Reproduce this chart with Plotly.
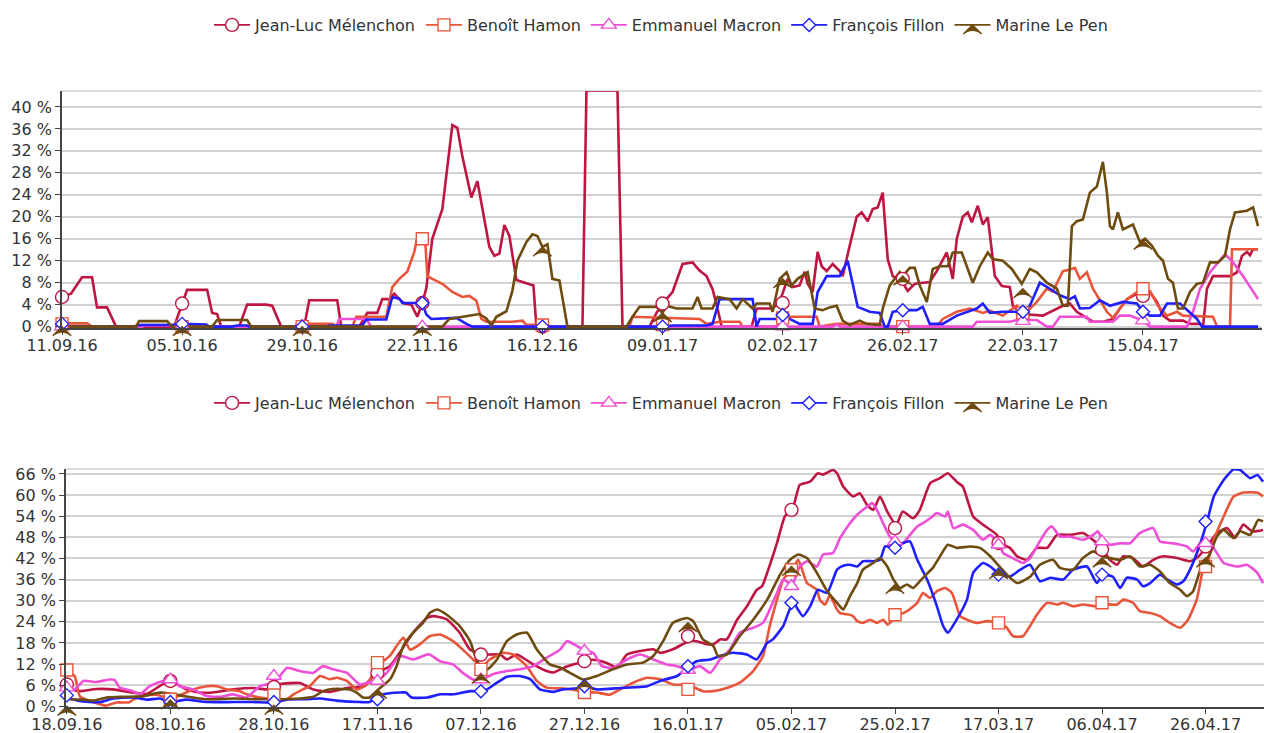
import pandas as pd
import plotly.graph_objects as go

# ---------------- data ----------------
START_TOP = "2016-09-11"
START_BOT = "2016-09-18"
NAMES = ["Jean-Luc Mélenchon", "Benoît Hamon", "Emmanuel Macron", "François Fillon", "Marine Le Pen"]

# top chart: (days since START_TOP, percent)
TOP_MEL = [(0,5.4),(1.8,6.0),(4,9.0),(6,9.0),(7,3.5),(9,3.5),(10.8,0),(22.4,0),(25,6.7),(29,6.7),(30,2.5),(31,2.3),(31.8,0),
           (35.4,0),(37,4.0),(40.8,4.0),(42,3.8),(43.8,0),(48.4,0),(49.4,4.8),(55,4.8),(55.8,0),(59.4,0),(61,2.5),(63,2.5),
           (64,5.0),(65.4,5.0),(66.4,6.0),(67.4,5.0),(68.4,4.2),(69.8,4.0),(71,1.8),(72,4.3),(72.8,7),(74,16),(76,21.4),
           (78,36.7),(79,36.2),(80,31),(81.8,23.5),(83,26.5),(85.4,14.5),(86.4,12.9),(87.4,13.3),(88.4,18.5),(89.4,16.5),
           (90.8,8.5),(93.4,7.8),(94.2,7.5),(94.8,0),(104,0),(104.8,43),(111,43),(112,0),(117.4,0),(118.8,2.5),(120,4.2),
           (122,6.3),(124,11.4),(126,11.7),(127.4,10.2),(128.8,9.2),(130,6.8),(131,3.3),(131.8,0),(137.8,0),(138.8,3.3),
           (142,3.3),(143.4,4.5),(145,8.7),(146,7.2),(147.4,7.5),(148.4,10),(149,7.8),(150,6.3),(151,13.6),(151.8,11),
           (152.8,10.1),(154,11.4),(155.4,10.1),(156,9.2),(157.4,14.7),(158.8,20),(159.8,20.8),(161,19.2),(162,21.4),
           (163,21.7),(164,24.4),(165,12.3),(166,9.2),(167.8,8.3),(169,6.5),(170.4,7.8),(173.4,8.1),(174.8,10.1),
           (176.8,13.5),(178,8.7),(178.8,16),(180,20),(181,20.8),(181.8,19),(183,22),(184,18.6),(185,19.9),(185.8,13.6),
           (186.4,9.2),(187.8,7.4),(189.4,7.2),(190,3.8),(191.8,2.3),(196,2),(198,2.9),(200,3.8),(201.4,4.2),(202.8,2.7),
           (204,2),(206,0.9),(208,0.9),(210,1.4),(211.4,3.3),(212.8,5),(215.4,6.3),(217.4,6.3),(218.8,4.5),(220,2),
           (221.4,1.1),(224,1.1),(225.4,0.5),(227.4,0.5),(228,0),(228.8,6.9),(230,9.2),(233.4,9.2),(234.8,9.9),
           (235.8,12.9),(236.8,13.6),(237.4,13),(238,14.1),(239,14.1)]
TOP_HAM = [(0,0.6),(5,0.6),(6,0),(14,0),(16,0.3),(22,0.3),(24,0),(48,0),(49,0.5),(54,0.5),(55,0),(58,0),(58.8,1.8),
           (64.8,1.8),(66,7.2),(67.4,8.7),(69,10),(70.4,13.6),(71,16.3),(72,16),(72.6,15.4),(73,9.2),(74,8.7),(76,7.8),
           (78,6.3),(80,5.4),(81.4,5.6),(82.8,4.7),(83.8,1.4),(84.8,0.9),(90,0.9),(92,1.1),(92.8,0.3),(95.4,0.4),(96.8,0),
           (113.4,0),(114,1.8),(127.4,1.4),(128.8,0.5),(131.4,0.9),(135.4,0.9),(136,0),(143,0),(143.4,1.6),(144,1.8),
           (150.8,1.8),(151.4,0),(154,0.3),(154.8,0.5),(163.4,0.5),(164,0),(174.8,0),(176,1.4),(178.8,2.7),(181.4,3.3),
           (184,2.5),(185.4,2.9),(188,2),(190.8,3.8),(192,2.5),(192.8,2.7),(194.8,4.5),(196.8,6.9),(198,6.4),(200,10.1),
           (201.4,10.4),(202.4,10.7),(203.4,8.7),(204.8,9.9),(206,6.9),(207.4,4.9),(208.8,2.7),(210,1.6),(211.4,3.3),
           (212.8,5),(214.8,6.3),(215.8,6.9),(217.4,6.5),(219,3.8),(220.8,2),(222.8,2.7),(224,2),(230,1.8),(230.8,0),
           (233.4,0),(233.8,14.1),(239,14.1)]
TOP_MAC = [(0,0),(16,0),(16.5,0.2),(22,0.2),(22.5,0),(54.8,0),(55.4,1.4),(60.8,1.4),(61.8,0),(154,0),(154.8,0.4),
           (155.5,0),(182,0),(182.8,0.9),(189.4,0.9),(190.8,1.2),(194.8,1.2),(196.8,0),(198,0),(199.4,1.8),(204.8,1.8),
           (205.4,0.9),(210,0.9),(211.4,2),(213.4,2),(216,1.1),(217.4,0),(224.8,0),(226,2.7),(227.4,6.9),(229.4,9.9),
           (232.4,13.2),(234,11.7),(236,9.2),(239,5)]
TOP_FIL = [(0,0.5),(1,0),(14.8,0),(15.4,0.3),(22,0.3),(23,0.4),(24,0.5),(28.8,0.4),(29.4,0),(34,0),(35,0.2),(37,0.2),
           (37.5,0),(52.8,0),(53.4,0.2),(60,0.2),(60.8,1.3),(64.8,1.3),(66,5.4),(67.4,5.1),(68,4.3),(72,4.3),(72.8,2.2),
           (73.8,1.4),(78.8,1.6),(80.8,0.5),(82,0),(120,0),(122,0.2),(128.8,0.2),(130,0.5),(131.4,5),(138,5),(138.8,0),
           (139.4,1.4),(142.8,1.4),(144,2.1),(145.4,1.4),(147.4,0.5),(150,0.5),(151,6.3),(152.8,9.2),(155.4,9.2),(157,12),
           (158,7.5),(159,3.6),(161.4,2.7),(163.4,2.5),(164.4,0),(165,0),(166,2.7),(168,3),(170.8,3),(172,3.6),(173.4,0.5),
           (176,0.5),(178.8,2),(182.8,3.3),(184,4.2),(185.4,2.5),(188,2.7),(192,2.7),(193.4,3.8),(195.4,8),(197.4,6.9),
           (199.4,5.7),(201.4,5),(202.4,5.5),(203.4,3.3),(205.4,3.4),(207.4,4.8),(209.4,3.8),(212,4.5),(214.8,4.2),
           (216,2.7),(217.4,2),(219.4,2),(220.8,4.2),(223.4,4.2),(224.8,3),(226.8,1.4),(227.8,0),(239,0)]
TOP_LEP = [(0,0),(14.8,0),(15.4,1),(21,1),(22,0),(30,0),(31,1.2),(37,1.2),(37.8,0),(76,0),(77.4,1.4),(83.4,2.3),
           (84.8,1.5),(85.8,0.2),(86.8,1.8),(88.8,2.8),(90,6.5),(91,12),(92.8,15.4),(94,16.8),(95,16.5),(96,14.5),(97,15),
           (98,8.7),(99.4,8.4),(100.4,2.7),(101,0),(112.8,0),(114,1.8),(115.4,3.6),(118.8,3.6),(120,2.5),(120.8,3.8),
           (122.8,3.3),(126,3.3),(127,5.4),(127.8,3.3),(130,3.3),(131,5.4),(133.4,5),(134.8,3.3),(136,5),(138,3.3),
           (138.8,4.2),(141.4,4.2),(142,2.7),(143.4,8.7),(144.8,9.9),(145.8,7.5),(147,8.7),(149,9.9),(150.4,3.3),(152,3.0),
           (153.4,3.5),(154.8,3.8),(156,1.1),(157.4,0.3),(159.4,1.1),(160.8,0.5),(163.4,0.3),(164,3.3),(165.4,7.5),
           (167.4,9.9),(168,9.2),(169.4,10.7),(170.4,10.7),(171.4,7.5),(172.8,4.5),(174,10.5),(175.4,11),(177,11),
           (178,13.5),(179.8,13.5),(180.8,11),(182,8),(183.4,11),(185,13.5),(186,12.3),(188,12),(189.8,10.5),(191.8,7.8),
           (193.4,10.5),(194.8,9.9),(196.8,8),(198.8,6.9),(200,3.8),(201,3.8),(201.8,18.3),(202.8,19.2),(204,19.5),
           (205.4,24.4),(206.8,25.5),(208,30),(208.8,24.4),(209.4,18.3),(210,17.7),(211,20.8),(212,17.7),(214,18.6),
           (215.4,15.4),(216.4,16),(217.8,14.7),(219,12.9),(220,12),(221,8.7),(222,8),(223,3.3),(224,3.3),(225.4,6.3),
           (226.8,7.8),(228,8),(229.4,11.7),(231,11.7),(232.4,12.9),(233.4,17.7),(234.4,20.8),(236.8,21.1),(238,21.7),
           (239,18.3)]

TOP_MARK_DAYS = [0, 24, 48, 72, 96, 120, 144, 168, 192, 216]
TOP_MEL_M = [5.4, 4.2, 0.0, 4.3, 0.0, 4.2, 4.3, 8.7, 2.3, 5.6]
TOP_HAM_M = [0.5, 0.0, 0.0, 16.0, 0.3, 0.4, 1.6, 0.0, 2.5, 6.9]
TOP_MAC_M = [0.0, 0.0, 0.0, 0.0, 0.0, 0.0, 0.0, 0.0, 1.0, 1.1]
TOP_FIL_M = [0.5, 0.5, 0.0, 4.3, 0.0, 0.0, 2.1, 3.0, 2.7, 2.7]
TOP_LEP_M = [0.0, 0.0, 0.0, 0.0, 14.5, 2.5, 8.7, 9.2, 6.9, 15.7]

# bottom chart: (days since START_BOT, percent)
BOT_MEL = [(0,6.0),(1,4.8),(2.5,4.3),(5.7,4.9),(8.9,4.8),(12.8,3.9),(15.4,3.5),(18,5.8),(19.9,7.2),(23.1,4.8),(25.7,3.9),
           (28.2,3.9),(32.1,4.8),(36,5.2),(38.6,4.8),(41.2,6.3),(45,6.6),(47.6,4.8),(50.8,4.1),(54.1,5.2),(57.2,5.7),
           (59.9,9.5),(62.4,11.4),(64.3,15.2),(66.9,20.9),(69.6,25.1),(70.8,25.6),(73.4,24.7),(75.9,20.9),(77.9,16.1),
           (80.2,14.7),(83.7,14.7),(85,13.3),(86.9,14.7),(90.1,11.9),(92.7,10),(94,9.6),(96.6,11.3),(100.3,12.8),
           (101.7,13.2),(104.3,12.3),(106.3,11),(108.2,14.7),(110.8,15.7),(113.3,16.2),(114.6,15.2),(117.1,16.2),
           (120.2,18.5),(121.7,18.5),(123.7,17.6),(124.9,17.6),(126.2,19),(127.5,19),(129.5,24.6),(131.4,28.4),
           (133.3,33.1),(134.3,34.1),(135.3,37.9),(137.2,46.4),(138.7,53.9),(140.3,56.5),(141.6,62.9),(143.6,63.8),
           (145.1,66.2),(146.1,65.8),(148,67.1),(148.8,66.2),(150,62.4),(151.9,59.6),(153.2,60.5),(154.6,57.2),
           (155.8,55.8),(157.1,59.6),(158.5,55.3),(160.2,51.5),(161.5,55.3),(163.5,53.4),(164.8,55.8),(166.8,63.4),
           (168.7,64.8),(170.2,66.2),(171.9,63.8),(173.1,62.4),(175.1,53.9),(177,51.6),(179.7,48.7),(180.3,46.4),
           (182.2,45),(183.6,42.6),(185.5,41.6),(187.4,45),(189.4,45),(191.3,48.7),(193.8,48.7),(196.3,49.2),(198.3,47.2),
           (200.2,44.5),(201.5,41.6),(202.9,40.2),(204.1,42.6),(206,42.1),(207.9,39.7),(209.9,41.6),(211.8,42.6),
           (214.5,42.1),(217,41.2),(218.3,42.1),(220.3,45.4),(222.2,49.2),(224.2,50.6),(225.7,47.8),(227.3,51.6),
           (229,49.7),(231.1,50.1)]
BOT_HAM = [(0,10.0),(1.5,8.6),(2.5,2.9),(3.8,1.8),(6.4,0.6),(7.5,0.2),(9.6,1.1),(12,1.1),(12.8,1.9),(14.8,2.9),(17.3,3.3),
           (19.9,2.2),(21.2,2.7),(24.4,4.8),(27,5.7),(29,5.7),(30.9,4.8),(33.4,4.3),(34.7,3.4),(37.3,2.5),(39.9,2.0),
           (42.5,2.0),(43.7,3.3),(45.6,4.8),(46.9,5.7),(48.9,8.6),(50.8,7.7),(52.1,8.1),(54.1,7.2),(56,4.8),(58,6.2),
           (59.9,11.4),(62.4,14.3),(63.7,17.1),(65,19.5),(66.3,16.1),(68.2,17.6),(70.1,19.9),(72.1,20.4),(74.6,18.5),
           (76.5,16.1),(78.5,13.3),(80.2,11.3),(81.7,13.3),(84.3,15.2),(86.2,14.7),(88.9,11.3),(90.8,7.2),(92.7,5.3),
           (96.6,5.0),(100.3,4.0),(102.4,3.9),(104.9,3.3),(106.9,4.8),(109.4,6.7),(112.1,8.1),(114.6,7.7),(117.1,6.2),
           (120.2,6.0),(122.9,4.3),(124.9,4.3),(127.5,5.2),(130,6.7),(132.6,10),(134.5,14.3),(135.8,22.8),(137.2,30.3),
           (138.4,36),(140.1,38.8),(141.3,41.6),(143,35),(144.9,33.1),(145.5,30.2),(146.5,28.9),(147.4,31.5),(148.8,27.5),
           (149.4,26.5),(151.3,26),(151.9,25.6),(152.7,24.2),(153.8,23.7),(155.2,24.6),(156.5,23.7),(157.7,24.6),
           (158.6,23.2),(160.2,25.5),(162.3,27),(164.3,29.4),(165.4,32.2),(166.8,30.8),(168.1,32.7),(169.7,33.6),
           (171,32.2),(172.6,25.6),(173.9,24.6),(175.8,23.7),(177.8,24.2),(180.3,23.7),(181.6,22.3),(182.8,19.9),
           (184.7,19.9),(186.1,22.8),(187.4,26),(189.4,29.4),(191.3,28.9),(192.5,29.4),(194.4,28.4),(196.3,28.9),
           (199,28.4),(200.2,29.0),(202.9,28.9),(204.1,30.3),(206,29.4),(207.3,27),(209.3,26.5),(211.2,25.6),(213.1,23.7),
           (215.1,22.3),(216.6,24.6),(218.3,30.3),(219.5,38.8),(220.3,40.5),(221.6,47.3),(223.5,53.9),(225.4,59.6),
           (227.3,60.7),(230,60.7),(231.1,59.6)]
BOT_MAC = [(0,4.8),(1.5,4.8),(3.2,7.2),(5.7,6.9),(8.3,7.6),(9.2,7.5),(10.2,5.3),(12.8,4.3),(14.1,3.4),(16,5.7),(18.6,7.2),
           (19.9,7.6),(21.8,5.7),(24.4,4.8),(27,2.9),(29.6,2.7),(32.1,3.4),(34.7,2.5),(37.3,5.7),(40.2,6.9),(42.5,10.9),
           (45,10),(47.6,9.5),(49.5,11.4),(51.4,10.5),(54.1,9.5),(56.6,6.2),(58.5,6.9),(59.9,7.2),(61.8,9.5),(64.3,14.3),
           (66.9,13.3),(69.6,14.7),(70.1,14.7),(72.1,12.8),(74.6,11.9),(76.5,9.5),(78.5,7.6),(80.2,7.6),(82.3,9.1),
           (85,10),(87.5,10.5),(90.1,11.4),(92.7,13.8),(95.3,16.1),(96.6,18.5),(98.6,17.1),(100.3,15.7),(101.7,15.2),
           (103.4,11.4),(105.5,10.9),(108.2,13.3),(110.8,14.7),(113.3,13.3),(115.9,11.9),(117.9,11.4),(120.2,10.3),
           (122.3,11.4),(124.3,9.5),(126.2,13.3),(128.1,16.1),(130,20.9),(132.6,22.3),(134.5,23.7),(135.8,27.5),
           (137.2,32.2),(138.4,36),(140.1,34.5),(141.6,39.7),(143,41.2),(144.9,39.7),(146.1,43.1),(148,43.5),(149.4,47.8),
           (151.3,52),(152.7,54.4),(154.6,56.7),(155.6,57.7),(156.5,55.8),(157.7,52),(159,48.2),(160.2,46.8),(161.5,46.3),
           (162.9,48.7),(164.3,51.1),(165.4,52),(166.8,53.4),(168.1,54.9),(169.7,53.9),(170.2,55.3),(171.3,50.6),
           (173.1,51.6),(175.1,50.1),(177,47.3),(178.4,48.7),(180.3,45.9),(180.9,43.5),(182.8,42.1),(184.7,40.7),
           (186.1,42.1),(187.4,45.4),(189.4,50.1),(190.3,51.1),(191.9,48.2),(193.8,48.2),(196.3,47.3),(198.3,48.7),
           (199.2,49.7),(200.2,46.8),(201.5,45.9),(203.5,46.3),(205.4,46.3),(207.3,49.2),(209.9,50.6),(211.2,46.8),
           (213.7,46.3),(216.4,45.4),(217.6,44),(219,46.3),(220.9,46.3),(222.2,43.5),(223.5,40.7),(226.2,39.7),
           (228,40.2),(230,37.9),(231.1,35)]
BOT_FIL = [(0,2.5),(2.5,1.5),(6.4,1.2),(8.9,2.2),(12.8,2.5),(15.4,1.9),(18,2.2),(19.9,1.2),(23.1,1.9),(27,1.2),(32.1,1.2),
           (36,1.2),(39.9,1.1),(42.5,1.9),(46.3,2.0),(48.9,2.2),(52.1,1.6),(56.6,1.2),(58.5,1.2),(59.9,2.7),(61.1,3.4),
           (64.3,3.9),(65.5,3.9),(66.6,2.5),(69.6,2.5),(72.1,3.4),(74.6,3.4),(77.9,4.3),(80.2,4.3),(81.2,4.8),(83.1,6.7),
           (85,8.4),(87.5,8.6),(89.5,7.7),(91.4,4.8),(94,4.1),(95.8,4.8),(99.1,5.2),(100.3,5.7),(102.4,4.8),(106.9,5.2),
           (112.1,5.7),(114.6,7.2),(117.9,8.6),(120.2,11.4),(121.7,12.8),(124.3,13.3),(126.2,14.3),(128.7,15.2),
           (131.4,14.7),(133.3,13.3),(135.3,18),(136.4,19),(138.4,22.8),(140.3,29.4),(142.2,25.6),(143.6,28.4),
           (145.1,33.1),(146.9,32.2),(148.8,38.8),(150,39.9),(151.3,40.2),(152.7,39.7),(153.8,41.2),(155.8,41.2),
           (157.1,41.6),(158.1,45.4),(160.2,45.0),(161.5,46.3),(162.9,46.8),(164.3,41.6),(166.2,36),(168.1,28.4),
           (169.3,22.8),(170.2,20.9),(171.9,24.6),(173.9,30.3),(175.1,37.9),(177,40.7),(178.4,39.7),(180.3,37.4),
           (182.2,36.8),(184.2,38.8),(186.1,40.2),(188,35.5),(190,36.5),(192.5,36),(194.4,38.8),(197.1,39.7),(199,35),
           (200.2,37.4),(202.1,36.8),(203.5,33.6),(204.8,36.5),(206.8,36),(207.9,34.1),(209.3,35),(211.2,37.4),
           (212.6,36),(214.5,34.6),(215.7,35.5),(217,38.8),(219,46.3),(220.3,52.5),(221.6,59.6),(223.5,64.3),
           (225.4,67.3),(226.7,67.1),(228.6,64.8),(230,65.7),(231.1,63.8)]
BOT_LEP = [(0,2.0),(3.2,1.9),(5.1,1.6),(7.7,2.5),(11.5,2.7),(14.8,2.9),(17.3,3.8),(19.2,3.8),(21.8,3.1),(24.4,2.5),
           (27,2.0),(32.1,2.2),(37.3,2.0),(39.9,2.0),(45,2.2),(47.6,2.7),(49.5,4.3),(51.4,4.9),(54.7,4.8),(56,3.9),
           (57.2,2.5),(58.5,2.5),(60.5,5.2),(62.4,7.6),(63.7,11.4),(65,17.1),(66.9,20.9),(68.8,23.7),(70.1,26.5),
           (71.5,27.5),(73.4,26),(75.9,22.8),(77.9,18.5),(79.4,12.4),(81.2,10.5),(83.1,13.3),(85,18.5),(86.9,20.4),
           (88.9,20.9),(90.8,16.1),(93.3,11.9),(95.3,11),(97.2,9.5),(99.7,7.6),(102.4,8.6),(105.5,10.5),(108.2,11.9),
           (111.3,12.4),(113.3,14.3),(115.2,18.5),(117.1,23.7),(119.8,25.1),(121,24.2),(122.9,19),(124.9,17.1),
           (125.8,14.3),(127.5,14.7),(130,19.9),(132.6,24.6),(135.3,30.3),(137.8,37.4),(139.7,41.6),(141.3,43.1),
           (143,42.1),(144.9,37.9),(146.9,32.7),(148.8,29.4),(150,27.5),(151.3,31.3),(152.7,35),(153.8,38.8),(155.8,40.7),
           (157.1,42.1),(158.5,39.7),(159.7,36),(161,33.6),(162.3,34.6),(163.5,33.6),(165.4,36.5),(167.3,39.3),
           (168.7,42.6),(170.2,45.9),(171.9,45),(174.5,45.4),(176.4,45),(178.4,42.6),(180.3,39.5),(181.6,37.4),
           (183.6,35),(186.1,36.8),(188,40.2),(190.5,41.6),(191.9,39.3),(194.4,38.8),(196.3,42.1),(198.3,44),
           (200.2,42.5),(201.5,42.1),(203.5,41.6),(205.4,42.6),(207.3,39.7),(209.3,40.2),(211.2,38.3),(213.1,35),
           (215.1,33.1),(216.4,31.3),(217.6,32.7),(219,38.8),(220.9,43.5),(222.2,48.2),(223.5,50.1),(225.4,47.8),
           (226.7,49.7),(228.6,48.7),(230.2,53),(231.1,52.5)]

BOT_MARK_DAYS = [0, 20, 40, 60, 80, 100, 120, 140, 160, 180, 200, 220]
BOT_MEL_M = [6.2, 7.2, 5.5, 9.5, 14.7, 12.8, 19.9, 55.8, 50.6, 46.4, 44.5, 45.4]
BOT_HAM_M = [10.3, 2.0, 3.2, 12.4, 10.5, 3.9, 4.8, 38.8, 26.0, 23.7, 29.4, 39.7]
BOT_MAC_M = [5.3, 7.6, 8.6, 7.2, 7.6, 15.7, 10.3, 34.1, 46.8, 45.9, 46.8, 46.3]
BOT_FIL_M = [3.1, 1.2, 1.2, 2.0, 4.3, 5.7, 11.4, 29.4, 45.0, 37.4, 37.4, 52.5]
BOT_LEP_M = [0.0, 1.8, 0.3, 4.8, 9.1, 7.2, 23.7, 39.7, 34.6, 38.8, 42.1, 42.1]

TOP_RANGE_X = ["2016-09-11", "2017-05-08 19:00"]
BOT_RANGE_X = ["2016-09-17 20:00", "2017-05-07 07:00"]
TOP_RANGE_Y = [-0.25, 42.9]
BOT_RANGE_Y = [-0.2, 67.4]

# ---------------- style ----------------
COLORS = ["#be1542", "#e8553a", "#ef4fd6", "#1f1fff", "#6e4b0e"]
SYMBOLS = ["circle", "square", "triangle-up", "diamond", "arrow-wide"]
MSIZES = [13, 12, 13, 10, 13]
FILLS = ["white", "white", "white", "white", "#6e4b0e"]
FONT = "DejaVu Sans, Verdana, sans-serif"
W, H = 1264, 733


def dates(start, days):
    return [pd.Timestamp(start) + pd.to_timedelta(d, unit="D") for d in days]


fig = go.Figure()

panels = [
    dict(start=START_TOP, series=[TOP_MEL, TOP_HAM, TOP_MAC, TOP_FIL, TOP_LEP],
         mdays=TOP_MARK_DAYS, marks=[TOP_MEL_M, TOP_HAM_M, TOP_MAC_M, TOP_FIL_M, TOP_LEP_M],
         xa="x", ya="y", legend="legend", shape="linear"),
    dict(start=START_BOT, series=[BOT_MEL, BOT_HAM, BOT_MAC, BOT_FIL, BOT_LEP],
         mdays=BOT_MARK_DAYS, marks=[BOT_MEL_M, BOT_HAM_M, BOT_MAC_M, BOT_FIL_M, BOT_LEP_M],
         xa="x2", ya="y2", legend="legend2", shape="spline"),
]

for p in panels:
    for i, s in enumerate(p["series"]):
        line = dict(color=COLORS[i], width=2.6, shape=p["shape"])
        if p["shape"] == "spline":
            line["smoothing"] = 0.5
        fig.add_trace(go.Scatter(
            x=dates(p["start"], [d for d, _ in s]), y=[v for _, v in s],
            mode="lines", line=line,
            xaxis=p["xa"], yaxis=p["ya"], showlegend=False, hoverinfo="skip"))
    for i, m in enumerate(p["marks"]):
        fig.add_trace(go.Scatter(
            x=dates(p["start"], p["mdays"]), y=m, mode="markers", cliponaxis=False,
            marker=dict(symbol=SYMBOLS[i], size=MSIZES[i], color=FILLS[i],
                        line=dict(color=COLORS[i], width=1.4)),
            xaxis=p["xa"], yaxis=p["ya"], showlegend=False, hoverinfo="skip"))
    for i, name in enumerate(NAMES):
        fig.add_trace(go.Scatter(
            x=[None], y=[None], mode="lines+markers", name=name,
            line=dict(color=COLORS[i], width=1.6),
            marker=dict(symbol=SYMBOLS[i], size=MSIZES[i], color=FILLS[i],
                        line=dict(color=COLORS[i], width=1.4)),
            xaxis=p["xa"], yaxis=p["ya"], legend=p["legend"], showlegend=True))

GRID = "#d2d2d2"
AX = "#444444"
common_x = dict(type="date", tickformat="%d.%m.%y", showgrid=False, zeroline=False,
                showline=True, linecolor=AX, linewidth=1.8, ticks="outside", ticklen=5,
                tickcolor=AX, tickfont=dict(size=16, color="#333", family=FONT), automargin=False,
                ticklabelstandoff=-3)
common_y = dict(showgrid=True, gridcolor=GRID, gridwidth=1.6, zeroline=False, showline=True,
                linecolor=AX, linewidth=1.6, ticks="outside", ticklen=5, tickcolor=AX,
                ticksuffix=" %", tickfont=dict(size=16, color="#333", family=FONT), automargin=False)
leg = dict(orientation="h", x=0.523, xanchor="center", yanchor="middle",
           font=dict(size=16, color="#333", family=FONT), bgcolor="rgba(0,0,0,0)", itemwidth=36)

fig.update_layout(
    width=W, height=H, margin=dict(l=0, r=0, t=0, b=0),
    paper_bgcolor="white", plot_bgcolor="white",
    font=dict(family=FONT, size=16, color="#333"),
    xaxis=dict(common_x, domain=[62 / W, 1262 / W], anchor="y", range=TOP_RANGE_X,
               tick0="2016-09-11", dtick=24 * 86400000),
    yaxis=dict(common_y, domain=[1 - 328 / H, 1 - 91 / H], anchor="x", range=TOP_RANGE_Y,
               tick0=0, dtick=4),
    xaxis2=dict(common_x, domain=[66 / W, 1.0], anchor="y2", range=BOT_RANGE_X,
                tick0="2016-09-18", dtick=20 * 86400000),
    yaxis2=dict(common_y, domain=[1 - 707 / H, 1 - 469 / H], anchor="x2", range=BOT_RANGE_Y,
                tick0=0, dtick=6),
    legend=dict(leg, y=1 - 25 / H),
    legend2=dict(leg, y=1 - 403 / H),
    shapes=[
        dict(type="line", xref="x domain", yref="y domain", x0=0, x1=1, y0=1, y1=1,
             line=dict(color=GRID, width=1.6), layer="below"),
        dict(type="line", xref="x2 domain", yref="y2 domain", x0=0, x1=1, y0=1, y1=1,
             line=dict(color=GRID, width=1.6), layer="below"),
    ],
    showlegend=True,
)

fig.write_html("out.html", config={"displayModeBar": False},
               post_script="document.body.style.margin='0';document.body.style.overflow='hidden';")
